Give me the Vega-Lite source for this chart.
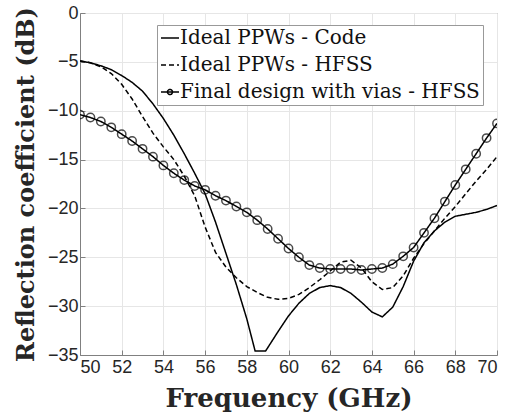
{
  "$schema": "https://vega.github.io/schema/vega-lite/v6.json",
  "width": 417,
  "height": 342,
  "autosize": "none",
  "padding": {"left": 80, "top": 13, "right": 14, "bottom": 60},
  "background": "white",
  "config": {
    "view": {"stroke": "#808080", "strokeWidth": 1},
    "axis": {
      "grid": true,
      "gridColor": "#e6e6e6",
      "gridWidth": 1,
      "domainColor": "#808080",
      "tickColor": "#808080",
      "tickSize": -5,
      "labelFont": "Liberation Sans",
      "labelFontSize": 18,
      "labelColor": "#262626",
      "titleFont": "DejaVu Serif",
      "titleFontWeight": "bold",
      "titleFontSize": 24,
      "titleColor": "#262626"
    }
  },
  "data": {
    "values": [
      {"f": 50, "s": -4.9, "series": "Ideal PPWs - Code"},
      {"f": 50.5, "s": -5.1, "series": "Ideal PPWs - Code"},
      {"f": 51, "s": -5.4, "series": "Ideal PPWs - Code"},
      {"f": 51.5, "s": -5.8, "series": "Ideal PPWs - Code"},
      {"f": 52, "s": -6.4, "series": "Ideal PPWs - Code"},
      {"f": 52.5, "s": -7.1, "series": "Ideal PPWs - Code"},
      {"f": 53, "s": -8.0, "series": "Ideal PPWs - Code"},
      {"f": 53.5, "s": -9.3, "series": "Ideal PPWs - Code"},
      {"f": 54, "s": -10.8, "series": "Ideal PPWs - Code"},
      {"f": 54.5, "s": -12.5, "series": "Ideal PPWs - Code"},
      {"f": 55, "s": -14.4, "series": "Ideal PPWs - Code"},
      {"f": 55.5, "s": -16.4, "series": "Ideal PPWs - Code"},
      {"f": 56, "s": -18.5, "series": "Ideal PPWs - Code"},
      {"f": 56.5, "s": -21.4, "series": "Ideal PPWs - Code"},
      {"f": 57, "s": -24.6, "series": "Ideal PPWs - Code"},
      {"f": 57.5, "s": -27.8, "series": "Ideal PPWs - Code"},
      {"f": 58, "s": -31.3, "series": "Ideal PPWs - Code"},
      {"f": 58.4, "s": -34.6, "series": "Ideal PPWs - Code"},
      {"f": 58.9, "s": -34.6, "series": "Ideal PPWs - Code"},
      {"f": 59.5, "s": -32.6, "series": "Ideal PPWs - Code"},
      {"f": 60, "s": -31.0, "series": "Ideal PPWs - Code"},
      {"f": 60.5, "s": -29.7, "series": "Ideal PPWs - Code"},
      {"f": 61, "s": -28.7, "series": "Ideal PPWs - Code"},
      {"f": 61.5, "s": -28.1, "series": "Ideal PPWs - Code"},
      {"f": 62, "s": -27.9, "series": "Ideal PPWs - Code"},
      {"f": 62.5, "s": -28.1, "series": "Ideal PPWs - Code"},
      {"f": 63, "s": -28.7, "series": "Ideal PPWs - Code"},
      {"f": 63.5, "s": -29.6, "series": "Ideal PPWs - Code"},
      {"f": 64, "s": -30.6, "series": "Ideal PPWs - Code"},
      {"f": 64.5, "s": -31.1, "series": "Ideal PPWs - Code"},
      {"f": 65, "s": -30.1, "series": "Ideal PPWs - Code"},
      {"f": 65.5, "s": -28.0, "series": "Ideal PPWs - Code"},
      {"f": 66, "s": -25.4, "series": "Ideal PPWs - Code"},
      {"f": 66.5, "s": -23.5, "series": "Ideal PPWs - Code"},
      {"f": 67, "s": -22.3, "series": "Ideal PPWs - Code"},
      {"f": 67.5, "s": -21.4, "series": "Ideal PPWs - Code"},
      {"f": 68, "s": -20.8, "series": "Ideal PPWs - Code"},
      {"f": 68.5, "s": -20.6, "series": "Ideal PPWs - Code"},
      {"f": 69, "s": -20.4, "series": "Ideal PPWs - Code"},
      {"f": 69.5, "s": -20.1, "series": "Ideal PPWs - Code"},
      {"f": 70, "s": -19.7, "series": "Ideal PPWs - Code"},

      {"f": 50, "s": -4.9, "series": "Ideal PPWs - HFSS"},
      {"f": 50.5, "s": -5.1, "series": "Ideal PPWs - HFSS"},
      {"f": 51, "s": -5.5, "series": "Ideal PPWs - HFSS"},
      {"f": 51.5, "s": -6.2, "series": "Ideal PPWs - HFSS"},
      {"f": 52, "s": -7.3, "series": "Ideal PPWs - HFSS"},
      {"f": 52.5, "s": -8.8, "series": "Ideal PPWs - HFSS"},
      {"f": 53, "s": -10.6, "series": "Ideal PPWs - HFSS"},
      {"f": 53.5, "s": -12.3, "series": "Ideal PPWs - HFSS"},
      {"f": 54, "s": -13.7, "series": "Ideal PPWs - HFSS"},
      {"f": 54.5, "s": -15.0, "series": "Ideal PPWs - HFSS"},
      {"f": 55, "s": -16.7, "series": "Ideal PPWs - HFSS"},
      {"f": 55.5, "s": -18.7, "series": "Ideal PPWs - HFSS"},
      {"f": 56, "s": -21.9, "series": "Ideal PPWs - HFSS"},
      {"f": 56.5, "s": -24.5, "series": "Ideal PPWs - HFSS"},
      {"f": 57, "s": -26.0, "series": "Ideal PPWs - HFSS"},
      {"f": 57.5, "s": -27.1, "series": "Ideal PPWs - HFSS"},
      {"f": 58, "s": -28.0, "series": "Ideal PPWs - HFSS"},
      {"f": 58.5, "s": -28.6, "series": "Ideal PPWs - HFSS"},
      {"f": 59, "s": -29.1, "series": "Ideal PPWs - HFSS"},
      {"f": 59.5, "s": -29.3, "series": "Ideal PPWs - HFSS"},
      {"f": 60, "s": -29.2, "series": "Ideal PPWs - HFSS"},
      {"f": 60.5, "s": -28.8, "series": "Ideal PPWs - HFSS"},
      {"f": 61, "s": -28.1, "series": "Ideal PPWs - HFSS"},
      {"f": 61.5, "s": -27.3, "series": "Ideal PPWs - HFSS"},
      {"f": 62, "s": -26.4, "series": "Ideal PPWs - HFSS"},
      {"f": 62.5, "s": -25.5, "series": "Ideal PPWs - HFSS"},
      {"f": 63, "s": -25.3, "series": "Ideal PPWs - HFSS"},
      {"f": 63.5, "s": -26.1, "series": "Ideal PPWs - HFSS"},
      {"f": 64, "s": -27.5, "series": "Ideal PPWs - HFSS"},
      {"f": 64.5, "s": -28.3, "series": "Ideal PPWs - HFSS"},
      {"f": 65, "s": -28.1, "series": "Ideal PPWs - HFSS"},
      {"f": 65.5, "s": -26.9, "series": "Ideal PPWs - HFSS"},
      {"f": 66, "s": -25.1, "series": "Ideal PPWs - HFSS"},
      {"f": 66.5, "s": -23.6, "series": "Ideal PPWs - HFSS"},
      {"f": 67, "s": -22.3, "series": "Ideal PPWs - HFSS"},
      {"f": 67.5, "s": -21.0, "series": "Ideal PPWs - HFSS"},
      {"f": 68, "s": -19.8, "series": "Ideal PPWs - HFSS"},
      {"f": 68.5, "s": -18.5, "series": "Ideal PPWs - HFSS"},
      {"f": 69, "s": -17.2, "series": "Ideal PPWs - HFSS"},
      {"f": 69.5, "s": -16.0, "series": "Ideal PPWs - HFSS"},
      {"f": 70, "s": -14.7, "series": "Ideal PPWs - HFSS"},

      {"f": 50, "s": -10.4, "series": "Final design with vias - HFSS"},
      {"f": 50.5, "s": -10.7, "series": "Final design with vias - HFSS"},
      {"f": 51, "s": -11.1, "series": "Final design with vias - HFSS"},
      {"f": 51.5, "s": -11.7, "series": "Final design with vias - HFSS"},
      {"f": 52, "s": -12.4, "series": "Final design with vias - HFSS"},
      {"f": 52.5, "s": -13.1, "series": "Final design with vias - HFSS"},
      {"f": 53, "s": -13.9, "series": "Final design with vias - HFSS"},
      {"f": 53.5, "s": -14.7, "series": "Final design with vias - HFSS"},
      {"f": 54, "s": -15.6, "series": "Final design with vias - HFSS"},
      {"f": 54.5, "s": -16.4, "series": "Final design with vias - HFSS"},
      {"f": 55, "s": -17.1, "series": "Final design with vias - HFSS"},
      {"f": 55.5, "s": -17.7, "series": "Final design with vias - HFSS"},
      {"f": 56, "s": -18.1, "series": "Final design with vias - HFSS"},
      {"f": 56.5, "s": -18.7, "series": "Final design with vias - HFSS"},
      {"f": 57, "s": -19.2, "series": "Final design with vias - HFSS"},
      {"f": 57.5, "s": -19.8, "series": "Final design with vias - HFSS"},
      {"f": 58, "s": -20.4, "series": "Final design with vias - HFSS"},
      {"f": 58.5, "s": -21.2, "series": "Final design with vias - HFSS"},
      {"f": 59, "s": -22.1, "series": "Final design with vias - HFSS"},
      {"f": 59.5, "s": -23.1, "series": "Final design with vias - HFSS"},
      {"f": 60, "s": -24.1, "series": "Final design with vias - HFSS"},
      {"f": 60.5, "s": -25.0, "series": "Final design with vias - HFSS"},
      {"f": 61, "s": -25.8, "series": "Final design with vias - HFSS"},
      {"f": 61.5, "s": -26.1, "series": "Final design with vias - HFSS"},
      {"f": 62, "s": -26.2, "series": "Final design with vias - HFSS"},
      {"f": 62.5, "s": -26.2, "series": "Final design with vias - HFSS"},
      {"f": 63, "s": -26.2, "series": "Final design with vias - HFSS"},
      {"f": 63.5, "s": -26.3, "series": "Final design with vias - HFSS"},
      {"f": 64, "s": -26.2, "series": "Final design with vias - HFSS"},
      {"f": 64.5, "s": -26.1, "series": "Final design with vias - HFSS"},
      {"f": 65, "s": -25.7, "series": "Final design with vias - HFSS"},
      {"f": 65.5, "s": -24.9, "series": "Final design with vias - HFSS"},
      {"f": 66, "s": -24.0, "series": "Final design with vias - HFSS"},
      {"f": 66.5, "s": -22.5, "series": "Final design with vias - HFSS"},
      {"f": 67, "s": -21.0, "series": "Final design with vias - HFSS"},
      {"f": 67.5, "s": -19.3, "series": "Final design with vias - HFSS"},
      {"f": 68, "s": -17.6, "series": "Final design with vias - HFSS"},
      {"f": 68.5, "s": -16.0, "series": "Final design with vias - HFSS"},
      {"f": 69, "s": -14.4, "series": "Final design with vias - HFSS"},
      {"f": 69.5, "s": -12.8, "series": "Final design with vias - HFSS"},
      {"f": 70, "s": -11.3, "series": "Final design with vias - HFSS"}
    ]
  },
  "encoding": {
    "x": {
      "field": "f", "type": "quantitative",
      "scale": {"domain": [50, 70], "nice": false, "zero": false},
      "axis": {"values": [50,52,54,56,58,60,62,64,66,68,70], "title": "Frequency (GHz)", "titleFontSize": 26, "labelPadding": 8, "titlePadding": 9}
    },
    "y": {
      "field": "s", "type": "quantitative",
      "scale": {"domain": [-35, 0], "nice": false, "zero": false},
      "axis": {"values": [0,-5,-10,-15,-20,-25,-30,-35], "title": "Reflection coefficient (dB)", "labelPadding": 7, "titlePadding": 9}
    }
  },
  "layer": [
    {
      "mark": {"type": "line", "color": "black", "strokeWidth": 1.5, "clip": true},
      "encoding": {
        "strokeDash": {
          "field": "series", "type": "nominal",
          "scale": {
            "domain": ["Ideal PPWs - Code", "Ideal PPWs - HFSS", "Final design with vias - HFSS"],
            "range": [[1, 0], [5, 3], [1, 0]]
          },
          "legend": {
            "title": null,
            "orient": "none",
            "legendX": 77,
            "legendY": 12,
            "fillColor": "white",
            "strokeColor": "#999999",
            "padding": 3,
            "rowPadding": 7,
            "labelFont": "DejaVu Serif",
            "labelFontSize": 20,
            "labelLimit": 500,
            "labelColor": "#111111",
            "labelOffset": 0,
            "symbolSize": 324,
            "symbolStrokeColor": "black",
            "symbolStrokeWidth": 1.5,
            "symbolFillColor": "transparent",
            "symbolType": "stroke",
            "encoding": {
              "symbols": {
                "shape": {"value": {"expr": "datum.value === 'Final design with vias - HFSS' ? 'M-1,0H1M0.28,0A0.28,0.28 0 1,1 -0.28,0A0.28,0.28 0 1,1 0.28,0' : 'M-1,0H1'"}}
              }
            }
          }
        }
      }
    },
    {
      "transform": [{"filter": "datum.series === 'Final design with vias - HFSS'"}],
      "mark": {"type": "point", "shape": "circle", "filled": false, "color": "black", "size": 70, "strokeWidth": 1.5, "clip": true}
    }
  ]
}
